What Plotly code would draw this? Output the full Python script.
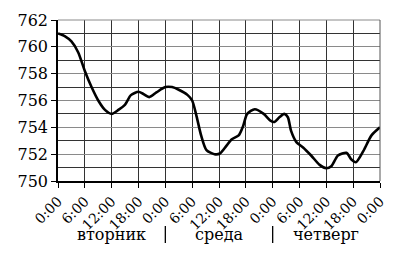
import plotly.graph_objects as go

hours = [0, 1.5, 3, 4.5, 6, 7.5, 9, 10.5, 12, 13.5, 15, 16.3, 18, 19, 20.4, 22, 24,
         25.5, 27, 29, 30, 31, 32, 33.2, 35, 36.2, 37.6, 38.8, 40.4, 41.4, 42.3, 44, 46,
         47.5, 48.4, 49.5, 50.6, 51.4, 52.1, 53.3, 54.8, 56.6, 58.5, 60, 61.1, 62.6,
         64.5, 65.6, 66.6, 68.3, 70.1, 72]
pressure = [761.0, 760.8, 760.4, 759.6, 758.2, 757.0, 756.0, 755.3, 755.0, 755.3, 755.7,
            756.4, 756.65, 756.5, 756.25, 756.6, 757.0,
            757.0, 756.8, 756.4, 756.0, 754.8, 753.4, 752.3, 752.0, 752.05, 752.6, 753.1,
            753.4, 754.1, 755.0, 755.35, 755.0,
            754.5, 754.4, 754.75, 755.0, 754.75, 753.75, 752.9, 752.5, 751.9, 751.2, 750.95,
            751.1, 751.9, 752.1, 751.6, 751.4, 752.25, 753.4, 754.0]

x_ticks = [0, 6, 12, 18, 24, 30, 36, 42, 48, 54, 60, 66, 72]
x_labels = ["0:00", "6:00", "12:00", "18:00"] * 3 + ["0:00"]
y_ticks = [750, 752, 754, 756, 758, 760, 762]
days = ["вторник", "среда", "четверг"]
day_centers = [12, 36, 60]
day_separators = [24, 48]

FONT = "DejaVu Serif"

fig = go.Figure()
fig.add_trace(go.Scatter(
    x=hours, y=pressure, mode="lines",
    line=dict(color="black", width=2.6, shape="spline", smoothing=0.7),
    hoverinfo="skip", showlegend=False,
))

fig.update_layout(
    width=412, height=256,
    margin=dict(l=58, r=32, t=20, b=75),
    paper_bgcolor="white", plot_bgcolor="white",
    font=dict(family=FONT, color="black"),
    xaxis=dict(
        range=[0, 72], tickvals=x_ticks, ticktext=x_labels, tickangle=-45,
        tickfont=dict(family=FONT, size=14, color="black"),
        ticks="outside", ticklen=5, tickcolor="black", tickwidth=1,
        showgrid=True, gridcolor="#333333", gridwidth=1,
        showline=True, linecolor="black", linewidth=1.5,
        zeroline=False, fixedrange=True,
    ),
    yaxis=dict(
        range=[750, 762], tickvals=y_ticks,
        tickfont=dict(family=FONT, size=16, color="black"),
        ticks="outside", ticklen=5, tickcolor="black", tickwidth=1,
        showgrid=True, gridcolor="#8a8a8a", gridwidth=1,
        minor=dict(dtick=1, showgrid=True, gridcolor="#333333", gridwidth=1, ticks=""),
        showline=True, linecolor="black", linewidth=1.5,
        zeroline=False, fixedrange=True,
    ),
)

# top and right frame
fig.add_shape(type="line", xref="paper", yref="paper", x0=0, x1=1, y0=1, y1=1,
              line=dict(color="#8a8a8a", width=1))
fig.add_shape(type="line", xref="paper", yref="paper", x0=1, x1=1, y0=0, y1=1,
              line=dict(color="#555555", width=1))

for d, c in zip(days, day_centers):
    fig.add_annotation(x=c, xref="x", y=-0.335, yref="paper", text=d, showarrow=False,
                       font=dict(family=FONT, size=16, color="black"),
                       xanchor="center", yanchor="middle")
for s in day_separators:
    fig.add_shape(type="line", xref="paper", yref="paper",
                  x0=s / 72, x1=s / 72, y0=-0.28, y1=-0.385,
                  line=dict(color="black", width=1.3))

fig.write_html("out.html")
